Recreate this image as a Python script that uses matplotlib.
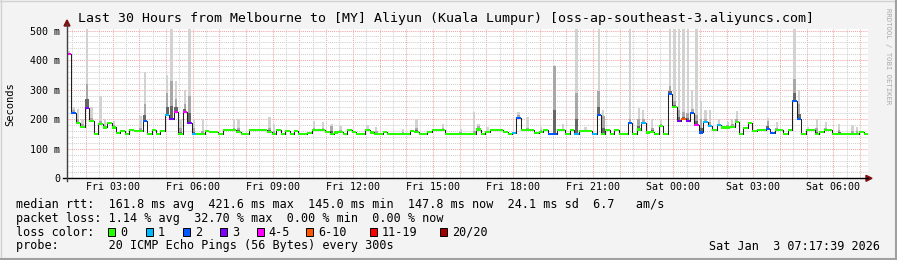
import numpy as np
import pandas as pd
import matplotlib
matplotlib.use("Agg")
import matplotlib.pyplot as plt
import matplotlib.dates as mdates
from matplotlib.lines import Line2D
from matplotlib.patches import Rectangle, Polygon
from matplotlib.ticker import MultipleLocator, FuncFormatter

plt.rcParams['font.family'] = 'DejaVu Sans Mono'

title = "Last 30 Hours from Melbourne to [MY] Aliyun (Kuala Lumpur) [oss-ap-southeast-3.aliyuncs.com]"
start = pd.Timestamp("2026-01-02 01:17:39")
span_hours = 30
step_minutes = 10

# median rtt (ms) per 10 minute step
median = [
    420, 222, 188, 175, 239, 193, 149, 185, 172, 188,
    172, 152, 160, 150, 163, 160, 160, 193, 150, 162,
    150, 160, 213, 200, 224, 149, 224, 187, 150, 150,
    150, 160, 158, 158, 150, 163, 163, 163, 158, 150,
    150, 163, 163, 163, 163, 158, 150, 163, 150, 160,
    150, 160, 150, 150, 152, 163, 163, 163, 157, 150,
    155, 158, 150, 163, 158, 150, 150, 163, 155, 150,
    150, 157, 150, 150, 150, 150, 150, 160, 158, 150,
    150, 157, 163, 163, 163, 150, 150, 150, 150, 150,
    150, 150, 165, 150, 158, 163, 163, 163, 157, 150,
    152, 205, 163, 163, 163, 152, 158, 163, 150, 150,
    163, 163, 150, 163, 150, 160, 160, 160, 150, 213,
    150, 163, 150, 163, 150, 150, 188, 150, 165, 188,
    155, 158, 150, 176, 150, 285, 241, 195, 200, 195,
    220, 180, 155, 190, 176, 163, 180, 172, 172, 175,
    191, 150, 171, 188, 160, 163, 163, 168, 152, 163,
    163, 150, 163, 262, 200, 150, 163, 163, 150, 158,
    163, 163, 150, 150, 150, 150, 150, 150, 158, 150,
]

# smoke: steps with visible spread, top of all pings / top of the dense part
smoke_idx = [0, 1, 2, 3, 4, 5, 7, 8, 10, 16, 17, 22, 23, 24, 25, 26, 27, 28,
             30, 37, 38, 45, 46, 55, 57, 59, 61, 67, 69, 75, 78, 84, 88,
             91, 92, 94, 101, 103, 106, 109, 111, 114, 116, 119, 120,
             126, 128, 129, 131, 133, 135, 136, 137, 138, 139, 140, 141,
             142, 143, 144, 146, 148, 149, 150, 157, 159, 163, 164, 166,
             168, 170, 173, 176, 177]
smoke_hi = [430, 240, 236, 200, 505, 240, 279, 200, 195, 210, 360, 350, 505, 330, 200, 300, 505, 200,
            200, 200, 200, 206, 185, 195, 190, 185, 177, 180, 172, 168, 200, 185, 168,
            225, 185, 172, 226, 208, 175, 385, 185, 505, 175, 505, 230,
            505, 239, 230, 200, 200, 505, 505, 505, 505, 505, 300, 505,
            260, 230, 230, 200, 190, 200, 228, 205, 190, 505, 300, 175,
            200, 190, 185, 180, 175]
smoke_mid = [425, 230, 200, 185, 320, 205, 195, 180, 180, 170, 250, 290, 330, 270, 170, 250, 280, 170,
             160, 170, 170, 170, 160, 170, 170, 178, 165, 168, 160, 155, 170, 170, 155,
             160, 177, 160, 215, 170, 162, 380, 168, 290, 165, 296, 210,
             200, 200, 200, 170, 185, 313, 260, 230, 225, 220, 235, 215,
             200, 200, 190, 185, 180, 185, 200, 195, 170, 336, 250, 165,
             170, 170, 165, 160, 160]

# lost pings (of 20) where not zero
loss_idx = [0, 1, 4, 17, 22, 23, 24, 26, 27, 28, 100, 101, 108, 109, 114, 118, 119,
            126, 129, 135, 137, 138, 139, 140, 141, 142, 143, 144, 146, 157, 158, 163, 164]
loss_pings = [4, 2, 3, 2, 1, 3, 4, 4, 3, 1, 1, 2, 2, 2, 1, 1, 2,
              2, 1, 2, 3, 7, 3, 2, 4, 2, 1, 1, 1, 2, 2, 2, 2]

loss_labels = ["0", "1", "2", "3", "4-5", "6-10", "11-19", "20/20"]
loss_upper = [0, 1, 2, 3, 5, 10, 19, 20]
loss_colors = ["#26ff00", "#00b8ff", "#0059ff", "#7e00ff", "#ff00ff", "#ff5500", "#ff0000", "#a10000"]

ytick_vals = [0, 100, 200, 300, 400, 500]
ytick_labels = ["0", "100 m", "200 m", "300 m", "400 m", "500 m"]

stats_rtt = "median rtt:  161.8 ms avg  421.6 ms max  145.0 ms min  147.8 ms now  24.1 ms sd  6.7   am/s"
stats_loss = "packet loss: 1.14 % avg  32.70 % max  0.00 % min  0.00 % now"
probe_text = "probe:       20 ICMP Echo Pings (56 Bytes) every 300s"
stamp = "Sat Jan  3 07:17:39 2026"

W, H = 897, 260


def fx(x):
    return x / W


def fy(y):
    return 1 - y / H


fig = plt.figure(figsize=(W / 100, H / 100), dpi=100)
fig.patch.set_facecolor('#f3f3f3')

# frame of the image
fig.add_artist(Line2D([fx(0.5), fx(0.5)], [fy(0), fy(H)], color='#d2d2d2', lw=1))
fig.add_artist(Line2D([fx(0), fx(W)], [fy(0.5), fy(0.5)], color='#d2d2d2', lw=1))
fig.add_artist(Line2D([fx(W - 1), fx(W - 1)], [fy(0), fy(H)], color='#a0a0a0', lw=1.5))
fig.add_artist(Line2D([fx(0), fx(W)], [fy(H - 1), fy(H - 1)], color='#a0a0a0', lw=1.5))

px_per_ms = 0.2955
ytop = 505
ax = fig.add_axes([fx(67), fy(178.3), fx(868) - fx(67), ytop * px_per_ms / H])
ax.set_facecolor('white')

times = pd.date_range(start, periods=len(median), freq=f"{step_minutes}min")
tnum = mdates.date2num(times)
dt = step_minutes / 1440.0
med = np.array(median, dtype=float)

hi = med.copy()
mid = med.copy()
hi[smoke_idx] = smoke_hi
mid[smoke_idx] = smoke_mid

# smoke: light outliers as thin strokes, denser part darker
ax.bar(tnum + 0.5 * dt, hi - med, bottom=med, width=0.55 * dt, align='center',
       color='#d2d2d2', lw=0, zorder=2)
ax.bar(tnum + 0.5 * dt, mid - med, bottom=med, width=0.6 * dt, align='center',
       color='#a8a8a8', lw=0, zorder=3)
ax.bar(tnum + 0.5 * dt, (mid - med) * 0.35, bottom=med, width=0.7 * dt, align='center',
       color='#666666', lw=0, zorder=4)

# median line
tx = np.append(tnum, tnum[-1] + dt)
my = np.append(med, med[-1])
ax.step(tx, my, where='post', color='#202020', lw=0.75, zorder=5)

# loss coloured markers
loss = np.zeros(len(median), dtype=int)
loss[loss_idx] = loss_pings
cols = [loss_colors[np.searchsorted(loss_upper, v)] for v in loss]
sw = 3.6
ax.bar(tnum, 2 * sw, bottom=med - sw, width=dt, align='edge', color=cols, lw=0, zorder=6)

t0 = mdates.date2num(start)
ax.set_xlim(t0, t0 + span_hours / 24)
ax.set_ylim(0, ytop)

ax.xaxis.set_major_locator(mdates.HourLocator())
ax.xaxis.set_minor_locator(mdates.MinuteLocator(byminute=[30]))
ax.xaxis.set_major_formatter(FuncFormatter(
    lambda v, p: mdates.num2date(v).strftime('%a %H:%M') if mdates.num2date(v).hour % 3 == 0 else ''))
ax.set_yticks(ytick_vals)
ax.set_yticklabels(ytick_labels)
ax.yaxis.set_minor_locator(MultipleLocator(20))

dots = (0, (1, 1))
ax.grid(which='minor', color='#d0d0d0', linestyle=dots, lw=0.75, zorder=1)
ax.grid(which='major', color='#f2a6a6', linestyle=dots, lw=0.75, zorder=1)
ax.set_axisbelow(True)

for s in ax.spines.values():
    s.set_visible(False)
ax.tick_params(which='both', length=0, labelsize=7.2, colors='black')
ax.tick_params(axis='x', pad=3)
ax.tick_params(axis='y', pad=5)

# axes lines with arrows
fig.add_artist(Line2D([fx(63), fx(868)], [fy(178.3), fy(178.3)], color='black', lw=1))
fig.add_artist(Line2D([fx(67), fx(67)], [fy(181), fy(24)], color='#404040', lw=1))
fig.add_artist(Polygon([[fx(866), fy(175.3)], [fx(872), fy(178.3)], [fx(866), fy(181.3)]],
                       closed=True, color='#7f1010', transform=fig.transFigure))
fig.add_artist(Polygon([[fx(64), fy(26)], [fx(67), fy(20)], [fx(70), fy(26)]],
                       closed=True, color='#7f1010', transform=fig.transFigure))

fig.text(fx(446), fy(18.5), title, ha='center', va='center', fontsize=9.5)
fig.text(fx(10), fy(104), "Seconds", rotation=90, ha='center', va='center', fontsize=7.5)
fig.text(fx(888), fy(8), "RRDTOOL / TOBI OETIKER", rotation=-90, ha='center', va='top',
         fontsize=5.2, color='#aaaaaa')

fig.text(fx(16), fy(204.3), stats_rtt, ha='left', va='center', fontsize=8.5)
fig.text(fx(16), fy(218.3), stats_loss, ha='left', va='center', fontsize=8.5)
fig.text(fx(16), fy(232.3), "loss color:", ha='left', va='center', fontsize=8.5)
fig.text(fx(16), fy(246), probe_text, ha='left', va='center', fontsize=8.5)
fig.text(fx(880), fy(246), stamp, ha='right', va='center', fontsize=8.5)

box_x = [108, 145.7, 182.7, 219.7, 256.7, 306, 370, 440]
for bx, lab, c in zip(box_x, loss_labels, loss_colors):
    fig.add_artist(Rectangle((fx(bx), fy(236)), fx(7), 7.7 / H, facecolor=c, edgecolor='black',
                             lw=0.7, transform=fig.transFigure))
    fig.text(fx(bx + 12), fy(232.3), lab, ha='left', va='center', fontsize=8.5)

fig.savefig('out.png', dpi=100, facecolor=fig.get_facecolor())
